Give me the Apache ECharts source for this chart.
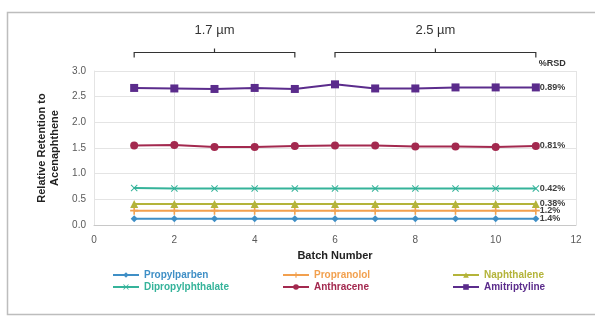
<!DOCTYPE html>
<html>
<head>
<meta charset="utf-8">
<script src="https://cdn.jsdelivr.net/npm/echarts@6/dist/echarts.min.js"></script>
<style>
  html, body { margin: 0; padding: 0; background: #fff; }
  #chart { width: 595px; height: 316px; }
</style>
</head>
<body>
<div id="chart"></div>
<script>
// batch numbers
var batches = [1, 2, 3, 4, 5, 6, 7, 8, 9, 10, 11];

// series names, in legend order
var names = ['Propylparben', 'Propranolol', 'Naphthalene', 'Dipropylphthalate', 'Anthracene', 'Amitriptyline'];

// relative retention values
var propylparben = [0.12, 0.12, 0.12, 0.12, 0.12, 0.12, 0.12, 0.12, 0.12, 0.12, 0.12];
var propranolol = [0.28, 0.28, 0.28, 0.28, 0.28, 0.28, 0.28, 0.28, 0.28, 0.28, 0.28];
var naphthalene = [0.41, 0.41, 0.41, 0.41, 0.41, 0.41, 0.41, 0.41, 0.41, 0.41, 0.41];
var dipropylphthalate = [0.72, 0.71, 0.71, 0.71, 0.71, 0.71, 0.71, 0.71, 0.71, 0.71, 0.71];
var anthracene = [1.55, 1.56, 1.52, 1.52, 1.54, 1.55, 1.55, 1.53, 1.53, 1.52, 1.54];
var amitriptyline = [2.67, 2.66, 2.65, 2.67, 2.65, 2.74, 2.66, 2.66, 2.68, 2.68, 2.68];

// %RSD labels at the end of each line
var rsd = ['1.4%', '1.2%', '0.38%', '0.42%', '0.81%', '0.89%'];

// particle size brackets: [label, first batch, last batch]
var brackets = [['1.7 µm', 1, 5], ['2.5 µm', 6, 11]];

var colors = ['#3f8fc6', '#f2a04e', '#b4b43a', '#35b39a', '#a3294f', '#5b2c8c'];
var symbols = [
    'diamond',
    'path://M4,0h2v4h4v2h-4v4h-2v-4h-4v-2h4z',
    'triangle',
    'path://M1,0L5,4L9,0L10,1L6,5L10,9L9,10L5,6L1,10L0,9L4,5L0,1z',
    'circle',
    'rect'
];
var sizes = [7, 8, 8, 7, 8, 8];
var values = [propylparben, propranolol, naphthalene, dipropylphthalate, anthracene, amitriptyline];

var chart = echarts.init(document.getElementById('chart'));

var series = names.map(function (name, i) {
    return {
        name: name,
        type: 'line',
        data: batches.map(function (b, j) { return [b, values[i][j]]; }),
        symbol: symbols[i],
        symbolSize: sizes[i],
        showAllSymbol: true,
        color: colors[i],
        lineStyle: { width: 2, color: colors[i] },
        itemStyle: { color: colors[i] },
        endLabel: {
            show: true,
            formatter: rsd[i],
            color: '#404040',
            fontSize: 9,
            fontWeight: 'bold',
            fontFamily: 'Liberation Sans',
            distance: 4
        },
        emphasis: { disabled: true },
        animation: false
    };
});

// legend columns: two items each
function legendCol(left, idx) {
    return {
        orient: 'vertical',
        left: left,
        top: 265,
        itemGap: 2,
        itemWidth: 26,
        itemHeight: 7,
        selectedMode: false,
        data: idx.map(function (i) {
            return {
                name: names[i],
                textStyle: { color: colors[i] }
            };
        }),
        textStyle: {
            fontSize: 10,
            fontWeight: 'bold',
            fontFamily: 'Liberation Sans'
        }
    };
}

var option = {
    backgroundColor: '#fff',
    animation: false,
    grid: { left: 94, right: 19, top: 71, bottom: 91 },
    legend: [legendCol(107, [0, 3]), legendCol(277, [1, 4]), legendCol(447, [2, 5])],
    xAxis: {
        type: 'value',
        min: 0,
        max: 12,
        interval: 2,
        name: 'Batch Number',
        nameLocation: 'middle',
        nameGap: 25,
        nameTextStyle: { fontSize: 11, fontWeight: 'bold', color: '#222', fontFamily: 'Liberation Sans' },
        axisLine: { lineStyle: { color: '#c8c8c8' } },
        axisTick: { show: false },
        axisLabel: { color: '#595959', fontSize: 10, fontFamily: 'Liberation Sans', margin: 10 },
        splitLine: { lineStyle: { color: '#e4e4e4' } }
    },
    yAxis: {
        type: 'value',
        min: 0,
        max: 3,
        interval: 0.5,
        name: 'Relative Retention to\nAcenaphthene',
        nameLocation: 'middle',
        nameGap: 33,
        nameTextStyle: { fontSize: 11, fontWeight: 'bold', color: '#222', fontFamily: 'Liberation Sans', lineHeight: 13 },
        axisLine: { show: true, lineStyle: { color: '#e4e4e4' } },
        axisTick: { show: false },
        axisLabel: {
            color: '#595959', fontSize: 10, fontFamily: 'Liberation Sans', margin: 8,
            formatter: function (v) { return v.toFixed(1); }
        },
        splitLine: { lineStyle: { color: '#e4e4e4' } }
    },
    series: series
};

chart.setOption(option);

// frame, brackets and %RSD header placed from the axes
var graphics = [{
    type: 'rect',
    shape: { x: 7.5, y: 12.5, width: 600, height: 302 },
    style: { fill: 'none', stroke: '#bdbdbd', lineWidth: 1.5 },
    z: -1
}];
brackets.forEach(function (br) {
    var a = chart.convertToPixel({ gridIndex: 0 }, [br[1], 3]);
    var b = chart.convertToPixel({ gridIndex: 0 }, [br[2], 3]);
    var y = 52.5;
    var mid = (a[0] + b[0]) / 2;
    graphics.push({
        type: 'polyline',
        shape: { points: [[a[0], y + 5], [a[0], y], [b[0], y], [b[0], y + 5]] },
        style: { stroke: '#333', lineWidth: 1.2, fill: 'none' }
    });
    graphics.push({
        type: 'line',
        shape: { x1: mid, y1: y, x2: mid, y2: y - 4 },
        style: { stroke: '#333', lineWidth: 1.2 }
    });
    graphics.push({
        type: 'text',
        x: mid,
        y: 30,
        style: {
            text: br[0], fill: '#333', font: '13px "Liberation Sans"',
            align: 'center', verticalAlign: 'middle'
        }
    });
});
var last = chart.convertToPixel({ gridIndex: 0 }, [batches[batches.length - 1], 3]);
graphics.push({
    type: 'text',
    x: last[0] + 3,
    y: last[1] - 7,
    style: {
        text: '%RSD', fill: '#333', font: 'bold 9px "Liberation Sans"',
        align: 'left', verticalAlign: 'middle'
    }
});
chart.setOption({ graphic: graphics });
</script>
</body>
</html>
